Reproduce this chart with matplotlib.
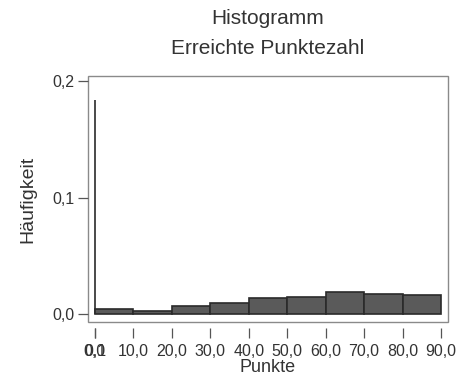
import matplotlib
matplotlib.use("Agg")
import matplotlib.pyplot as plt
import numpy as np
from matplotlib.patches import Rectangle

plt.rcParams['font.family'] = ['Liberation Sans', 'DejaVu Sans']

# bin edges (first bin holds the zero scores) and relative frequencies
bin_edges = [0, 0.1, 10, 20, 30, 40, 50, 60, 70, 80, 90]
frequencies = [0.184, 0.004, 0.0023, 0.0069, 0.0097, 0.0137, 0.0143, 0.0186, 0.0172, 0.016]
xticks = [0, 0.1, 10, 20, 30, 40, 50, 60, 70, 80, 90]
yticks = [0.0, 0.1, 0.2]

fig = plt.figure(figsize=(4.58, 3.75), dpi=100)
ax = fig.add_axes([0.192, 0.141, 0.786, 0.656])

left = np.array(bin_edges[:-1])
widths = np.diff(bin_edges)
ax.bar(left, frequencies, width=widths, align='edge', color='#5a5a5a',
       edgecolor='#2a2a2a', linewidth=1.2)

ax.set_xlim(-1.82, 91.8)
ax.set_ylim(-0.0069, 0.2043)

# light box around the plot area
for s in ax.spines.values():
    s.set_visible(False)
ax.add_patch(Rectangle((0, 0), 1, 1, transform=ax.transAxes, fill=False,
                       edgecolor='#8a8a8a', linewidth=1.0, clip_on=False))
ax.spines['bottom'].set_position(('outward', 4))

ax.set_xticks(xticks)
ax.set_xticklabels([f"{v:.1f}".replace('.', ',') for v in xticks])
ax.set_yticks(yticks)
ax.set_yticklabels([f"{v:.1f}".replace('.', ',') for v in yticks])
ax.tick_params(axis='both', direction='out', length=7, width=0.9, color='#555555',
               labelsize=11.5, labelcolor='#333333')
ax.tick_params(axis='x', pad=5)
ax.tick_params(axis='y', pad=3)

ax.set_xlabel("Punkte", fontsize=13, color='#333333', labelpad=0)
ax.set_ylabel("Häufigkeit", fontsize=14, color='#333333', labelpad=11)

fig.text(0.585, 0.952, "Histogramm", ha='center', va='center', fontsize=15, color='#333333')
fig.text(0.585, 0.872, "Erreichte Punktezahl", ha='center', va='center', fontsize=15, color='#333333')

fig.savefig("out.png", dpi=100)
